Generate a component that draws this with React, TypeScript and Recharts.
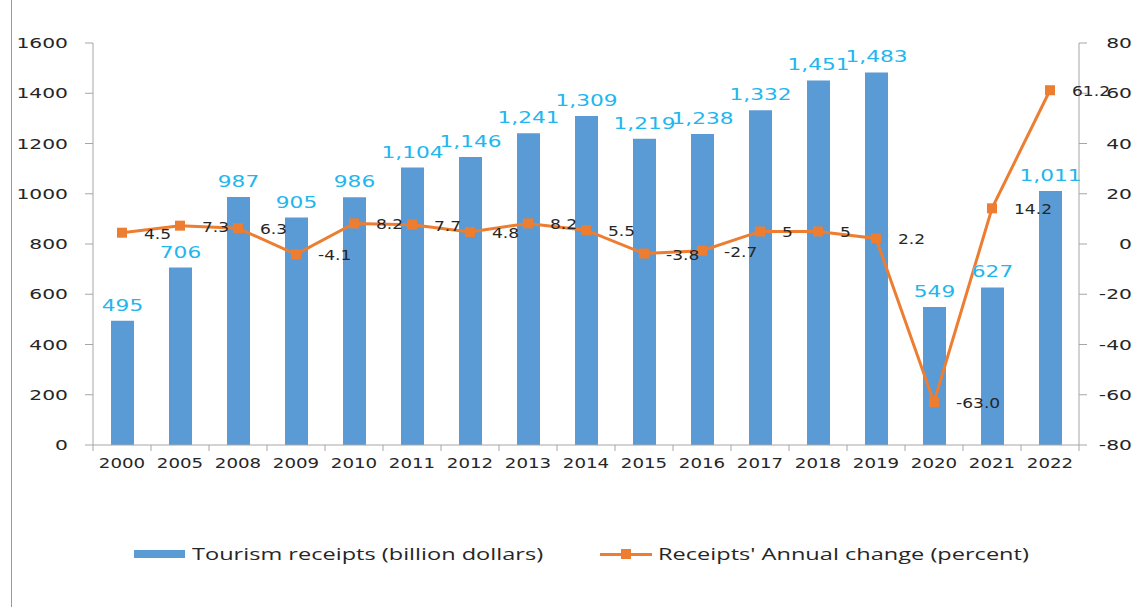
import React from "react";
import {
  ComposedChart,
  Bar,
  Line,
  XAxis,
  YAxis,
  LabelList,
} from "recharts";

const years = [
  "2000", "2005", "2008", "2009", "2010", "2011", "2012", "2013", "2014",
  "2015", "2016", "2017", "2018", "2019", "2020", "2021", "2022",
];
const receipts = [
  495, 706, 987, 905, 986, 1104, 1146, 1241, 1309, 1219, 1238, 1332, 1451,
  1483, 549, 627, 1011,
];
const annualChange = [
  4.5, 7.3, 6.3, -4.1, 8.2, 7.7, 4.8, 8.2, 5.5, -3.8, -2.7, 5, 5, 2.2, -63.0,
  14.2, 61.2,
];
const changeLabels = [
  "4.5", "7.3", "6.3", "-4.1", "8.2", "7.7", "4.8", "8.2", "5.5", "-3.8",
  "-2.7", "5", "5", "2.2", "-63.0", "14.2", "61.2",
];
const leftTicks = [0, 200, 400, 600, 800, 1000, 1200, 1400, 1600];
const rightTicks = [-80, -60, -40, -20, 0, 20, 40, 60, 80];

const data = years.map((year, i) => ({
  year,
  receipts: receipts[i],
  change: annualChange[i],
  changeLabel: changeLabels[i],
}));

const BAR = "#5B9BD5";
const LINE = "#ED7D31";
const AXIS = "#A6A6A6";
const TEXT = "#262626";
const FONT = "'DejaVu Sans', Verdana, sans-serif";

// the original picture is stretched sideways, so text is widened with scaleX
const Wide = ({ x, y, sx, anchor = "start", size, fill = TEXT, children }: any) => (
  <text
    transform={`translate(${x} ${y}) scale(${sx} 1)`}
    textAnchor={anchor}
    fill={fill}
    fontSize={size}
    fontFamily={FONT}
  >
    {children}
  </text>
);

const SquareDot = (props: any) => {
  const { cx, cy } = props;
  if (cx == null || cy == null) return null;
  return <rect x={cx - 5} y={cy - 5} width={10} height={10} fill={LINE} />;
};

const XTick = (props: any) => {
  const { x, y, payload } = props;
  const half = payload?.offset ?? 29;
  return (
    <g>
      <line x1={x - half} y1={445} x2={x - half} y2={451} stroke={AXIS} />
      {payload.index === years.length - 1 && (
        <line x1={x + half} y1={445} x2={x + half} y2={451} stroke={AXIS} />
      )}
      <Wide x={x} y={y + 15} sx={1.3} anchor="middle" size={14}>
        {payload.value}
      </Wide>
    </g>
  );
};

const LeftTick = (props: any) => {
  const { y, payload } = props;
  return (
    <Wide x={68} y={y + 5} sx={1.45} anchor="end" size={14}>
      {payload.value}
    </Wide>
  );
};

const RightTick = (props: any) => {
  const { y, payload } = props;
  return (
    <Wide x={1132} y={y + 5} sx={1.45} anchor="end" size={14}>
      {payload.value}
    </Wide>
  );
};

const ChangeLabel = (props: any) => {
  const { x, y, value } = props;
  return (
    <Wide x={x + 22} y={y + 6} sx={1.22} size={14}>
      {value}
    </Wide>
  );
};

const BarLabel = (props: any) => {
  const { x, y, width, value } = props;
  return (
    <Wide x={x + width / 2} y={y - 10} sx={1.4} anchor="middle" size={15.5} fill="#21B6EE">
      {Number(value).toLocaleString("en-US")}
    </Wide>
  );
};

export default function App() {
  return (
    <div
      style={{
        position: "absolute",
        left: 0,
        top: 0,
        width: 1142,
        height: 607,
        background: "#fff",
        overflow: "hidden",
      }}
    >
      <div
        style={{
          position: "absolute",
          left: 11,
          top: 0,
          width: 1,
          height: 607,
          background: "#9a9a9a",
        }}
      />
      <ComposedChart
        width={1142}
        height={607}
        data={data}
        margin={{ top: 43, right: 0, bottom: 132, left: 0 }}
        barCategoryGap={0}
      >
        <XAxis
          dataKey="year"
          height={30}
          stroke={AXIS}
          tickLine={false}
          tick={<XTick />}
          interval={0}
        />
        <YAxis
          yAxisId="left"
          width={93}
          domain={[0, 1600]}
          ticks={leftTicks}
          stroke={AXIS}
          tickSize={8}
          interval={0}
          tick={<LeftTick />}
        />
        <YAxis
          yAxisId="right"
          orientation="right"
          width={63}
          domain={[-80, 80]}
          ticks={rightTicks}
          stroke={AXIS}
          tickSize={8}
          interval={0}
          tick={<RightTick />}
        />
        <Bar
          yAxisId="left"
          dataKey="receipts"
          fill={BAR}
          barSize={23}
          isAnimationActive={false}
        >
          <LabelList dataKey="receipts" content={<BarLabel />} />
        </Bar>
        <Line
          yAxisId="right"
          dataKey="change"
          stroke={LINE}
          strokeWidth={3}
          dot={<SquareDot />}
          activeDot={false}
          isAnimationActive={false}
        >
          <LabelList dataKey="changeLabel" content={<ChangeLabel />} />
        </Line>
      </ComposedChart>
      <div
        style={{
          position: "absolute",
          top: 543,
          left: 0,
          width: 1142,
          height: 22,
          fontFamily: "'Open Sans', sans-serif",
          fontSize: 15.5,
          color: TEXT,
        }}
      >
        <div
          style={{
            position: "absolute",
            left: 134,
            top: 7,
            width: 51,
            height: 8,
            background: BAR,
          }}
        />
        <div
          style={{
            position: "absolute",
            left: 192,
            top: 0,
            whiteSpace: "nowrap",
            transform: "scaleX(1.52)",
            transformOrigin: "left center",
          }}
        >
          Tourism receipts (billion dollars)
        </div>
        <div
          style={{
            position: "absolute",
            left: 600,
            top: 10,
            width: 52,
            height: 3,
            background: LINE,
          }}
        />
        <div
          style={{
            position: "absolute",
            left: 621,
            top: 6,
            width: 10,
            height: 10,
            background: LINE,
          }}
        />
        <div
          style={{
            position: "absolute",
            left: 658,
            top: 0,
            whiteSpace: "nowrap",
            transform: "scaleX(1.52)",
            transformOrigin: "left center",
          }}
        >
          Receipts' Annual change (percent)
        </div>
      </div>
    </div>
  );
}
